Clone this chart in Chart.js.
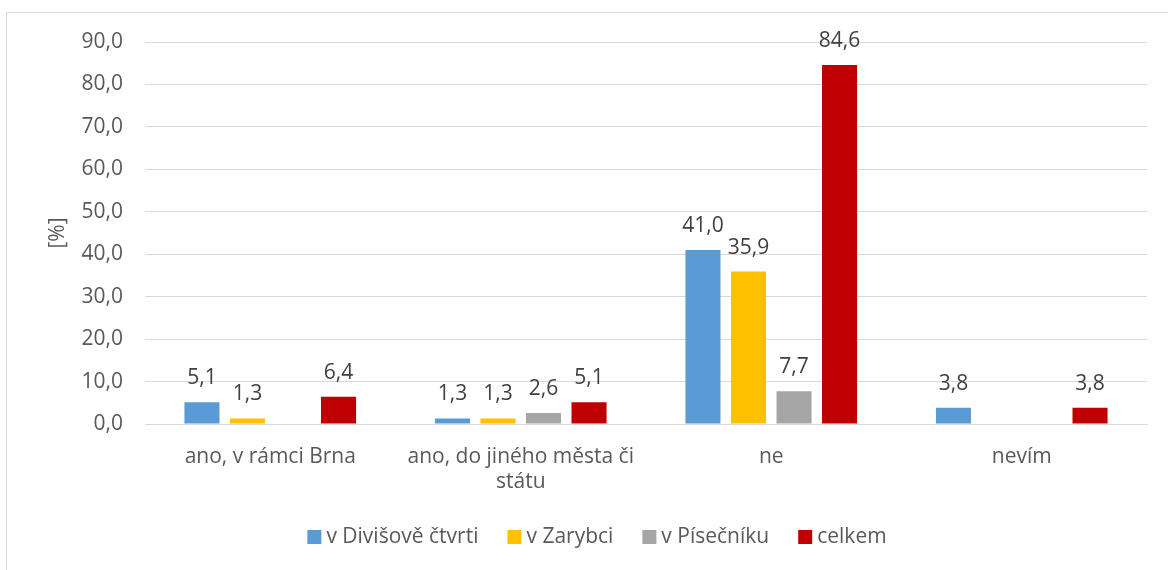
<!DOCTYPE html>
<html>
<head>
<meta charset="utf-8">
<script src="https://cdn.jsdelivr.net/npm/chart.js@4.4.0/dist/chart.umd.min.js"></script>
<style>
  html, body { margin: 0; padding: 0; background: #fff; }
  #wrap { width: 1168px; height: 570px; }
</style>
</head>
<body>
<div id="wrap"><canvas id="canvas1" width="1168" height="570"></canvas></div>
<script>
// kategorie a hodnoty [%]
var categories = ['ano, v rámci Brna', ['ano, do jiného města či', 'státu'], 'ne', 'nevím'];
var seriesNames = ['v Divišově čtvrti', 'v Zarybci', 'v Písečníku', 'celkem'];
var divisov = [5.1, 1.3, 41.0, 3.8];
var zarybci = [1.3, 1.3, 35.9, null];
var pisecnik = [null, 2.6, 7.7, null];
var celkem = [6.4, 5.1, 84.6, 3.8];
var colors = ['#5B9BD5', '#FFC000', '#A5A5A5', '#C00000'];

var FONT = '"Open Sans", sans-serif';

function fmt(v) {
    return v.toFixed(1).replace('.', ',');
}

// popisky hodnot nad sloupci
var valueLabels = {
    id: 'valueLabels',
    afterDatasetsDraw: function (chart) {
        var ctx = chart.ctx;
        ctx.save();
        ctx.font = '21px ' + FONT;
        ctx.fillStyle = '#404040';
        ctx.textAlign = 'center';
        ctx.textBaseline = 'middle';
        chart.data.datasets.forEach(function (ds, i) {
            var meta = chart.getDatasetMeta(i);
            meta.data.forEach(function (bar, j) {
                var v = ds.data[j];
                if (v === null || v === undefined) return;
                ctx.fillText(fmt(v), bar.x, bar.y - 24);
            });
        });
        ctx.restore();
    }
};

// legenda dole (vlastni, kvuli rozestupum jako v Excelu)
var bottomLegend = {
    id: 'bottomLegend',
    afterDraw: function (chart) {
        var ctx = chart.ctx;
        var box = 14, gap = 5, spacing = 29, y = 537;
        ctx.save();
        ctx.font = '21px ' + FONT;
        ctx.textBaseline = 'middle';
        var ds = chart.data.datasets;
        var total = 0;
        ds.forEach(function (d, i) {
            total += box + gap + ctx.measureText(d.label).width;
            if (i < ds.length - 1) total += spacing;
        });
        var x = 597 - total / 2;
        ds.forEach(function (d) {
            ctx.fillStyle = d.backgroundColor;
            ctx.fillRect(x, y - box / 2, box, box);
            x += box + gap;
            ctx.fillStyle = '#595959';
            ctx.fillText(d.label, x, y);
            x += ctx.measureText(d.label).width + spacing;
        });
        ctx.restore();
    }
};

// ramecek grafu
var frame = {
    id: 'frame',
    beforeDraw: function (chart) {
        var ctx = chart.ctx;
        ctx.save();
        ctx.fillStyle = '#fff';
        ctx.fillRect(0, 0, chart.width, chart.height);
        ctx.strokeStyle = '#d9d9d9';
        ctx.lineWidth = 1;
        ctx.beginPath();
        ctx.moveTo(6.5, chart.height + 5);
        ctx.lineTo(6.5, 12.5);
        ctx.lineTo(chart.width + 5, 12.5);
        ctx.stroke();
        ctx.restore();
    }
};

var data = {
    labels: categories,
    datasets: [
        { label: seriesNames[0], data: divisov, backgroundColor: colors[0] },
        { label: seriesNames[1], data: zarybci, backgroundColor: colors[1] },
        { label: seriesNames[2], data: pisecnik, backgroundColor: colors[2] },
        { label: seriesNames[3], data: celkem, backgroundColor: colors[3] }
    ]
};

var ctx = document.getElementById('canvas1').getContext('2d');
var chart = new Chart(ctx, {
    type: 'bar',
    data: data,
    options: {
        responsive: false,
        animation: false,
        devicePixelRatio: 1,
        categoryPercentage: 0.727,
        barPercentage: 0.77,
        layout: { padding: { left: 0, right: 21, top: 42, bottom: 65 } },
        plugins: {
            legend: { display: false },
            tooltip: { enabled: false }
        },
        scales: {
            x: {
                grid: { display: false },
                border: { display: true, color: '#d9d9d9', width: 1 },
                ticks: {
                    font: { family: FONT, size: 21 },
                    color: '#595959',
                    padding: 12,
                    maxRotation: 0
                },
                afterFit: function (s) { s.height = 81; }
            },
            y: {
                min: 0,
                max: 90,
                ticks: {
                    stepSize: 10,
                    font: { family: FONT, size: 21 },
                    color: '#595959',
                    padding: 22,
                    callback: function (v) { return fmt(v); }
                },
                grid: { color: '#d9d9d9', lineWidth: 1, drawTicks: false },
                border: { display: false },
                title: {
                    display: true,
                    text: '[%]',
                    font: { family: FONT, size: 21 },
                    color: '#595959',
                    padding: { top: 45, bottom: 0 }
                },
                afterFit: function (s) { s.width = 145; }
            }
        }
    },
    plugins: [frame, valueLabels, bottomLegend]
});
</script>
</body>
</html>
